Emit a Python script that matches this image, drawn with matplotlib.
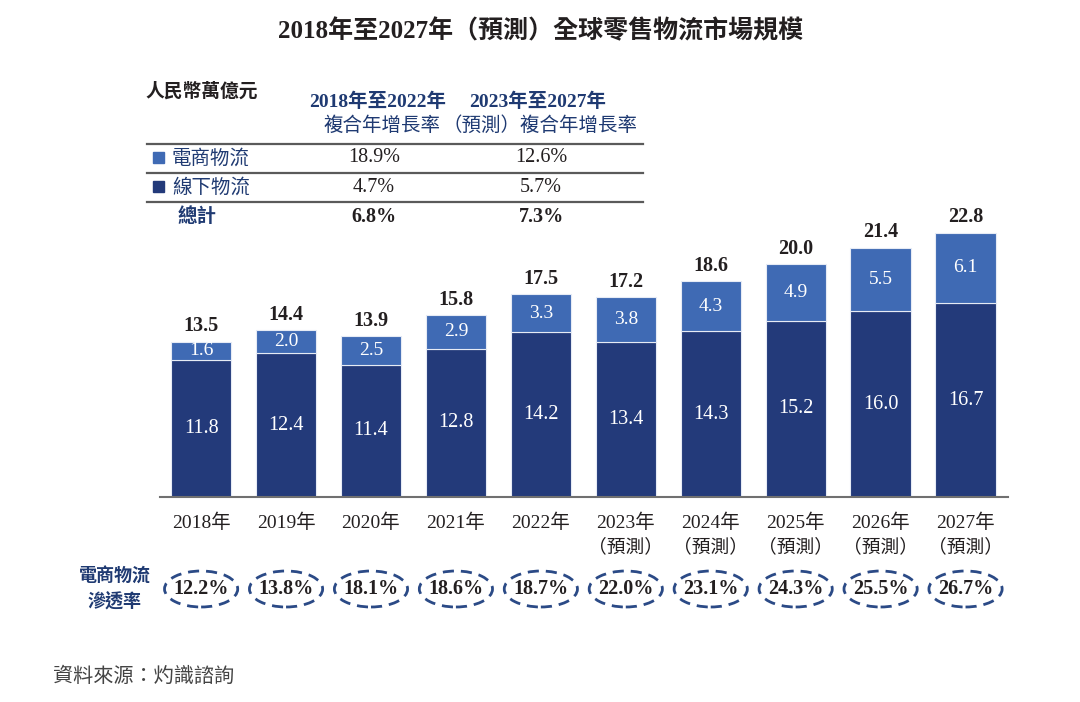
import numpy as np
import matplotlib
matplotlib.use('Agg')
import matplotlib.pyplot as plt
import matplotlib.transforms as mtrans
from matplotlib.patches import Ellipse, Rectangle

# data
years = ['2018年', '2019年', '2020年', '2021年', '2022年',
         '2023年', '2024年', '2025年', '2026年', '2027年']
forecast = [False] * 5 + [True] * 5
ecom = [1.6, 2.0, 2.5, 2.9, 3.3, 3.8, 4.3, 4.9, 5.5, 6.1]
offline = [11.8, 12.4, 11.4, 12.8, 14.2, 13.4, 14.3, 15.2, 16.0, 16.7]
totals = [13.5, 14.4, 13.9, 15.8, 17.5, 17.2, 18.6, 20.0, 21.4, 22.8]
penetration = [12.2, 13.8, 18.1, 18.6, 18.7, 22.0, 23.1, 24.3, 25.5, 26.7]

table_rows = ['電商物流', '線下物流', '總計']
cagr_hist = ['18.9%', '4.7%', '6.8%']
cagr_fcst = ['12.6%', '5.7%', '7.3%']

DARK = '#233a7a'
LIGHT = '#3f6ab4'
NAVY_TXT = '#1f3a72'
TXT = '#231f20'
FAM = ['Liberation Serif', 'Noto Sans CJK TC']

W, H = 1080, 702


def px(x, y):
    return x / W, 1 - y / H


fig = plt.figure(figsize=(10.8, 7.02), dpi=100)
ax = fig.add_axes([160 / W, 1 - 497 / H, 848 / W, 290 / H])

x = np.arange(len(years))
bw = 0.71
ax.bar(x, offline, bw, color=DARK, edgecolor='#e6ebf5', linewidth=0.8, zorder=2)
ax.bar(x, ecom, bw, bottom=offline, color=LIGHT, edgecolor='#e6ebf5', linewidth=0.8, zorder=2)

for i in range(len(x)):
    ax.text(x[i], offline[i] / 2, f'{offline[i]:.1f}', ha='center', va='center',
            color='white', fontsize=14.5, family=FAM)
    ax.text(x[i], offline[i] + ecom[i] / 2, f'{ecom[i]:.1f}', ha='center', va='center',
            color='white', fontsize=14, family=FAM)
    ax.text(x[i], offline[i] + ecom[i] + 0.45, f'{totals[i]:.1f}', ha='center', va='bottom',
            color=TXT, fontsize=14.5, fontweight='bold', family=FAM)

ax.set_xlim(-0.484, 9.5)
ax.set_ylim(0, 25)
for s in ['top', 'right', 'left']:
    ax.spines[s].set_visible(False)
ax.spines['bottom'].set_color('#707070')
ax.spines['bottom'].set_linewidth(1.5)
ax.set_xticks([])
ax.set_yticks([])

# x labels and penetration ellipses
blend = mtrans.blended_transform_factory(ax.transData, fig.transFigure)
for i in range(len(x)):
    ax.text(x[i], px(0, 523)[1], years[i], transform=blend, ha='center', va='center',
            fontsize=14, color=TXT, family=FAM)
    if forecast[i]:
        ax.text(x[i], px(0, 547)[1], '（預測）', transform=blend, ha='center', va='center',
                fontsize=13.5, color=TXT, family=FAM)
    ax.text(x[i], px(0, 589)[1], f'{penetration[i]:.1f}%', transform=blend, ha='center',
            va='center', fontsize=14.5, fontweight='bold', color=TXT, family=FAM)
    e = Ellipse((x[i], px(0, 589)[1]), 73 / 84.7, 36 / H, transform=blend, fill=False,
                edgecolor='#2b4a86', linewidth=2, linestyle=(0, (4, 2.5)), clip_on=False)
    ax.add_patch(e)

fig.text(*px(115, 577), '電商物流', ha='center', va='center', fontsize=13,
         color=NAVY_TXT, fontweight='bold', family=FAM)
fig.text(*px(115, 601), '滲透率', ha='center', va='center', fontsize=13,
         color=NAVY_TXT, fontweight='bold', family=FAM)

# title
fig.text(*px(541, 31), '2018年至2027年（預測）全球零售物流市場規模', ha='center', va='center',
         fontsize=18, fontweight='bold', color=TXT, family=FAM)

# table
fig.text(*px(145, 91), '人民幣萬億元', ha='left', va='center', fontsize=13.5,
         fontweight='bold', color=TXT, family=FAM)
fig.text(*px(378, 102), '2018年至2022年', ha='center', va='center', fontsize=14,
         fontweight='bold', color=NAVY_TXT, family=FAM)
fig.text(*px(382, 126), '複合年增長率', ha='center', va='center', fontsize=14,
         color=NAVY_TXT, family=FAM)
fig.text(*px(538, 102), '2023年至2027年', ha='center', va='center', fontsize=14,
         fontweight='bold', color=NAVY_TXT, family=FAM)
fig.text(*px(540, 126), '（預測）複合年增長率', ha='center', va='center', fontsize=14,
         color=NAVY_TXT, family=FAM)

for yy in [144, 173, 202]:
    fig.add_artist(plt.Line2D([147 / W, 643 / W], [px(0, yy)[1]] * 2, color='#5a5a5a',
                              linewidth=1.6))

row_y = [158, 187, 217]
sq_col = [LIGHT, DARK]
for j in range(3):
    bold = j == 2
    if j < 2:
        fig.add_artist(Rectangle(px(153, row_y[j] + 5), 11 / W, 11 / H, color=sq_col[j]))
        fig.text(*px(172, row_y[j]), table_rows[j], ha='left', va='center', fontsize=14,
                 color=NAVY_TXT, family=FAM)
    else:
        fig.text(*px(178, row_y[j]), table_rows[j], ha='left', va='center', fontsize=14,
                 color=NAVY_TXT, fontweight='bold', family=FAM)
    fig.text(*px(374, row_y[j]), cagr_hist[j], ha='center', va='center', fontsize=14.5,
             color=TXT, fontweight='bold' if bold else 'normal', family=FAM)
    fig.text(*px(541, row_y[j]), cagr_fcst[j], ha='center', va='center', fontsize=14.5,
             color=TXT, fontweight='bold' if bold else 'normal', family=FAM)

# source
fig.text(*px(53, 677), '資料來源：灼識諮詢', ha='left', va='center', fontsize=14.5,
         color='#444444', style='italic', family=FAM)

fig.savefig('out.png', dpi=100)
